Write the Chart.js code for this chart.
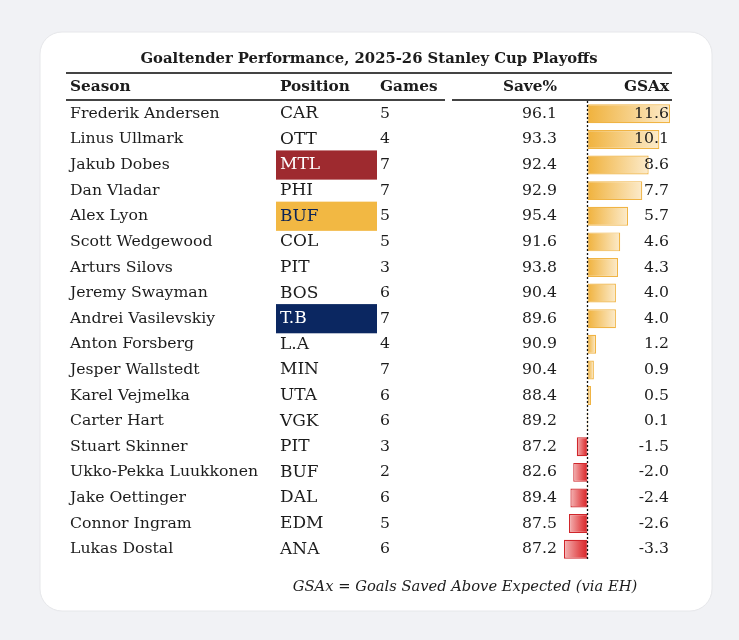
<!DOCTYPE html>
<html>
<head>
<meta charset="utf-8">
<script src="https://cdn.jsdelivr.net/npm/chart.js@4.4.1/dist/chart.umd.min.js"></script>
<style>
html,body{margin:0;padding:0;background:#f1f2f5;}
#wrap{width:739px;height:640px;}
</style>
</head>
<body>
<div id="wrap"><canvas id="c" width="739" height="640"></canvas></div>
<script>
const title = "Goaltender Performance, 2025-26 Stanley Cup Playoffs";
const headers = ["Season", "Position", "Games", "Save%", "GSAx"];
const footnote = "GSAx = Goals Saved Above Expected (via EH)";
const names = ["Frederik Andersen","Linus Ullmark","Jakub Dobes","Dan Vladar","Alex Lyon","Scott Wedgewood","Arturs Silovs","Jeremy Swayman","Andrei Vasilevskiy","Anton Forsberg","Jesper Wallstedt","Karel Vejmelka","Carter Hart","Stuart Skinner","Ukko-Pekka Luukkonen","Jake Oettinger","Connor Ingram","Lukas Dostal"];
const teams = ["CAR","OTT","MTL","PHI","BUF","COL","PIT","BOS","T.B","L.A","MIN","UTA","VGK","PIT","BUF","DAL","EDM","ANA"];
const games = [5,4,7,7,5,5,3,6,7,4,7,6,6,3,2,6,5,6];
const savePct = [96.1,93.3,92.4,92.9,95.4,91.6,93.8,90.4,89.6,90.9,90.4,88.4,89.2,87.2,82.6,89.4,87.5,87.2];
const gsax = [11.6,10.1,8.6,7.7,5.7,4.6,4.3,4.0,4.0,1.2,0.9,0.5,0.1,-1.5,-2.0,-2.4,-2.6,-3.3];
const highlightRows = [2, 4, 8];

// styling
const highlightStyle = {
  2: {fill:"#9e2a2f", text:"#ffffff"},
  4: {fill:"#f2b843", text:"#0c2355"},
  8: {fill:"#0b2761", text:"#ffffff"}
};
const FONT = '"DejaVu Serif", "Liberation Serif", serif';
const TXT = "#1c1c1c";

function gradFor(ctx) {
  const chart = ctx.chart;
  const v = ctx.raw;
  if (!chart.chartArea || v === undefined) return v >= 0 ? "#f2b84b" : "#d9282c";
  const xs = chart.scales.x;
  const x0 = xs.getPixelForValue(0), x1 = xs.getPixelForValue(v);
  if (Math.abs(x1 - x0) < 0.5) return v >= 0 ? "#f2b84b" : "#d9282c";
  const g = chart.ctx.createLinearGradient(x0, 0, x1, 0);
  if (v >= 0) { g.addColorStop(0, "#f0b23d"); g.addColorStop(1, "#fcebcb"); }
  else { g.addColorStop(0, "#d92227"); g.addColorStop(0.3, "#e24a4c"); g.addColorStop(1, "#f4b4b4"); }
  return g;
}

const tablePlugin = {
  id: "tablePlugin",
  beforeDraw(chart) {
    const c = chart.ctx;
    const ys = chart.scales.y;
    c.save();
    // page background
    c.fillStyle = "#f1f2f5";
    c.fillRect(0, 0, chart.width, chart.height);
    // card
    c.beginPath();
    c.roundRect(40, 32, 672, 579, 22);
    c.fillStyle = "#ffffff";
    c.fill();
    c.strokeStyle = "#e6e7ea";
    c.lineWidth = 1;
    c.stroke();
    // title
    c.fillStyle = TXT;
    c.font = "bold 14.8px " + FONT;
    c.textAlign = "center";
    c.textBaseline = "middle";
    c.fillText(title, 369, 59);
    // rules
    c.strokeStyle = "#444444";
    c.lineWidth = 2;
    c.beginPath(); c.moveTo(66, 73); c.lineTo(672, 73); c.stroke();
    c.beginPath(); c.moveTo(66, 100); c.lineTo(445, 100); c.stroke();
    c.beginPath(); c.moveTo(452, 100); c.lineTo(672, 100); c.stroke();
    // headers
    c.font = "bold 15.3px " + FONT;
    c.textAlign = "left";
    c.fillText(headers[0], 70, 87);
    c.fillText(headers[1], 280, 87);
    c.fillText(headers[2], 380, 87);
    c.textAlign = "right";
    c.fillText(headers[3], 557, 87);
    c.fillText(headers[4], 669, 87);
    // rows
    const step = Math.abs(ys.getPixelForValue(1) - ys.getPixelForValue(0));
    names.forEach((n, i) => {
      const y = ys.getPixelForValue(i);
      c.textAlign = "left";
      c.fillStyle = TXT;
      c.font = "15.7px " + FONT;
      c.fillText(n, 70, y);
      let tc = TXT;
      if (highlightRows.includes(i)) {
        const h = highlightStyle[i];
        c.fillStyle = h.fill;
        c.fillRect(276, y - step * 0.57, 101, step * 1.14);
        tc = h.text;
      }
      c.fillStyle = tc;
      c.font = "17px " + FONT;
      c.fillText(teams[i], 280, y);
      c.fillStyle = TXT;
      c.font = "15.7px " + FONT;
      c.fillText(String(games[i]), 380, y);
      c.textAlign = "right";
      c.fillText(savePct[i].toFixed(1), 557, y);
    });
    // footnote
    c.font = "italic 14.7px " + FONT;
    c.textAlign = "center";
    c.fillStyle = TXT;
    c.fillText(footnote, 465, 587);
    c.restore();
  },
  afterDatasetsDraw(chart) {
    const c = chart.ctx;
    const xs = chart.scales.x, ys = chart.scales.y;
    c.save();
    const x0 = Math.round(xs.getPixelForValue(0)) + 0.5;
    c.strokeStyle = "#111";
    c.lineWidth = 1.3;
    c.setLineDash([2, 2]);
    c.beginPath(); c.moveTo(x0, 101); c.lineTo(x0, 561); c.stroke();
    c.setLineDash([]);
    c.font = "15.7px " + FONT;
    c.fillStyle = TXT;
    c.textAlign = "right";
    c.textBaseline = "middle";
    gsax.forEach((v, i) => {
      c.fillText(v.toFixed(1), 669, ys.getPixelForValue(i));
    });
    c.restore();
  }
};

new Chart(document.getElementById("c"), {
  type: "bar",
  data: {
    labels: names,
    datasets: [{
      data: gsax,
      backgroundColor: gradFor,
      borderColor: (ctx) => (ctx.raw >= 0 ? "#f0b444" : "#d0262b"),
      borderWidth: 1.2,
      borderSkipped: false,
      barPercentage: 0.74,
      categoryPercentage: 1
    }]
  },
  options: {
    indexAxis: "y",
    responsive: false,
    animation: false,
    layout: { padding: { left: 564, right: 69, top: 101, bottom: 78 } },
    plugins: { legend: { display: false }, tooltip: { enabled: false } },
    scales: {
      x: { display: false, min: -3.3, max: 11.6, grid: { display: false } },
      y: { display: false, grid: { display: false } }
    }
  },
  plugins: [tablePlugin]
});
</script>
</body>
</html>
